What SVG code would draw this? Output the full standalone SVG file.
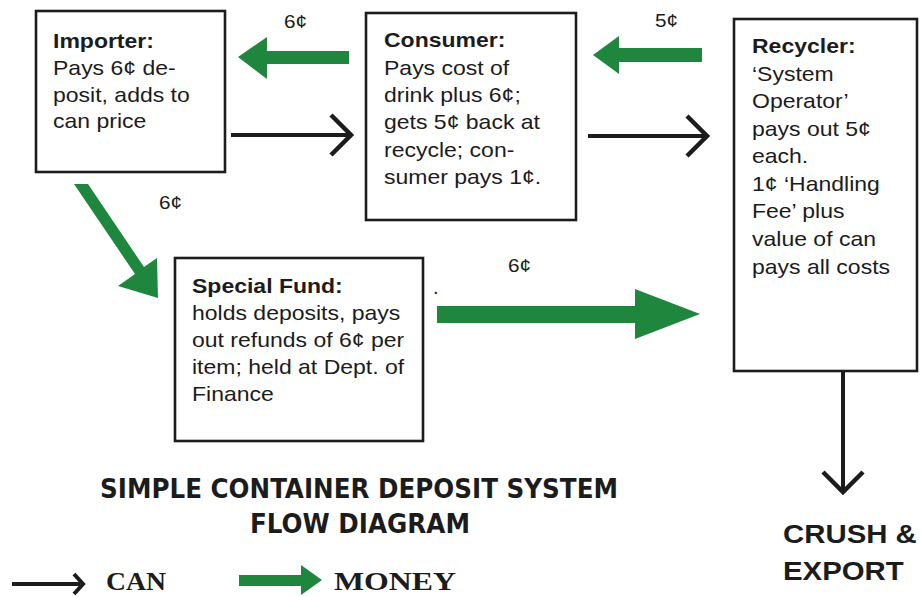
<svg xmlns="http://www.w3.org/2000/svg" width="922" height="597" viewBox="0 0 922 597">
  <defs>
    <style>
      .box { fill: #ffffff; stroke: #1c1c1c; stroke-width: 2.6; }
      .txt { font-family: "Liberation Sans", Arial, sans-serif; font-size: 20px; fill: #1c1c1c; }
      .hd { font-weight: bold; }
      .lbl { font-family: "Liberation Sans", Arial, sans-serif; font-size: 18px; fill: #1c1c1c; }
      .money { fill: #1f873d; stroke: none; }
      .can { fill: none; stroke: #1c1c1c; stroke-width: 4; }
      .title { font-family: "DejaVu Sans Condensed", "DejaVu Sans", sans-serif; font-weight: bold; font-size: 27px; fill: #1c1c1c; }
      .big { font-family: "Liberation Sans", Arial, sans-serif; font-weight: bold; font-size: 26px; fill: #1c1c1c; }
      .leg { font-family: "Liberation Serif", "Times New Roman", serif; font-weight: bold; font-size: 26px; fill: #1c1c1c; }
    </style>
    <!-- open chevron head used by the can-flow arrows -->
    <marker id="chev" viewBox="0 0 26 44" markerWidth="26" markerHeight="44" refX="23" refY="22" orient="auto" markerUnits="userSpaceOnUse">
      <path d="M2,2 L22,22 L2,42" fill="none" stroke="#1c1c1c" stroke-width="4.5"/>
    </marker>
  </defs>

  <rect width="922" height="597" fill="#ffffff"/>

  <!-- nodes -->
  <g id="importer">
    <rect class="box" x="36" y="11" width="189" height="161"/>
    <text class="txt" transform="translate(53,48) scale(1.15,1)">
      <tspan x="0" y="0" class="hd">Importer:</tspan>
      <tspan x="0" y="27">Pays 6¢  de-</tspan>
      <tspan x="0" y="54">posit, adds to</tspan>
      <tspan x="0" y="80">can price</tspan>
    </text>
  </g>

  <g id="consumer">
    <rect class="box" x="366" y="13" width="210" height="207"/>
    <text class="txt" transform="translate(384,47) scale(1.15,1)">
      <tspan x="0" y="0" class="hd">Consumer:</tspan>
      <tspan x="0" y="28">Pays cost of</tspan>
      <tspan x="0" y="55">drink plus 6¢;</tspan>
      <tspan x="0" y="82">gets 5¢ back at</tspan>
      <tspan x="0" y="110">recycle; con-</tspan>
      <tspan x="0" y="137">sumer pays 1¢.</tspan>
    </text>
  </g>

  <g id="recycler">
    <rect class="box" x="734" y="19" width="183" height="352"/>
    <text class="txt" transform="translate(752,53) scale(1.15,1)">
      <tspan x="0" y="0" class="hd">Recycler:</tspan>
      <tspan x="0" y="28">‘System</tspan>
      <tspan x="0" y="55">Operator’</tspan>
      <tspan x="0" y="83">pays out 5¢</tspan>
      <tspan x="0" y="110">each.</tspan>
      <tspan x="0" y="138">1¢  ‘Handling</tspan>
      <tspan x="0" y="165">Fee’ plus</tspan>
      <tspan x="0" y="193">value of can</tspan>
      <tspan x="0" y="221">pays all costs</tspan>
    </text>
  </g>

  <g id="special-fund">
    <rect class="box" x="175" y="258" width="248" height="183"/>
    <text class="txt" transform="translate(192,293) scale(1.15,1)">
      <tspan x="0" y="0" class="hd">Special Fund:</tspan>
      <tspan x="0" y="27">holds deposits, pays</tspan>
      <tspan x="0" y="54">out refunds of 6¢ per</tspan>
      <tspan x="0" y="81">item; held at Dept. of</tspan>
      <tspan x="0" y="108">Finance</tspan>
    </text>
  </g>

  <g id="crush-export">
    <text class="big" transform="translate(783,543) scale(1.13,1)">
      <tspan x="0" y="0">CRUSH &amp;</tspan>
      <tspan x="0" y="37">EXPORT</tspan>
    </text>
  </g>

  <!-- connectors -->
  <g id="connectors">
    <!-- money flows -->
    <polygon class="money" points="349,51 267,51 267,37 238,57 267,79 267,64 349,64"/>
    <polygon class="money" points="702,48 619,48 619,36 593,55 619,74 619,62 702,62"/>
    <polygon class="money" points="74,184 88,184 144,267 157,258 158,298 118,286 135,274"/>
    <polygon class="money" points="437,306 635,306 635,289 700,314 635,339 635,323 437,323"/>
    <!-- can flows -->
    <line class="can" x1="231" y1="135" x2="352" y2="135" marker-end="url(#chev)"/>
    <line class="can" x1="588" y1="136" x2="708" y2="136" marker-end="url(#chev)"/>
    <line class="can" x1="843" y1="371" x2="843" y2="493" marker-end="url(#chev)"/>
    <!-- amounts -->
    <text class="lbl" transform="translate(284,28) scale(1.15,1)">6¢</text>
    <text class="lbl" transform="translate(655,27) scale(1.15,1)">5¢</text>
    <text class="lbl" transform="translate(159,209) scale(1.15,1)">6¢</text>
    <text class="lbl" transform="translate(508,272) scale(1.15,1)">6¢</text>
    <text class="txt" x="433" y="294">.</text>
  </g>

  <g id="title">
    <text class="title" x="100" y="498" textLength="518" lengthAdjust="spacingAndGlyphs">SIMPLE CONTAINER DEPOSIT SYSTEM</text>
    <text class="title" x="250" y="533" textLength="220" lengthAdjust="spacingAndGlyphs">FLOW DIAGRAM</text>
  </g>

  <g id="legend">
    <line class="can" x1="12" y1="584" x2="80" y2="584"/>
    <polyline class="can" points="74,574 83,584 74,594" stroke-width="5"/>
    <text class="leg" x="106" y="590" textLength="60" lengthAdjust="spacingAndGlyphs">CAN</text>
    <polygon class="money" points="239,575 301,575 301,565 322,580 301,595 301,586 239,586"/>
    <text class="leg" x="334" y="590" textLength="122" lengthAdjust="spacingAndGlyphs">MONEY</text>
  </g>
</svg>
